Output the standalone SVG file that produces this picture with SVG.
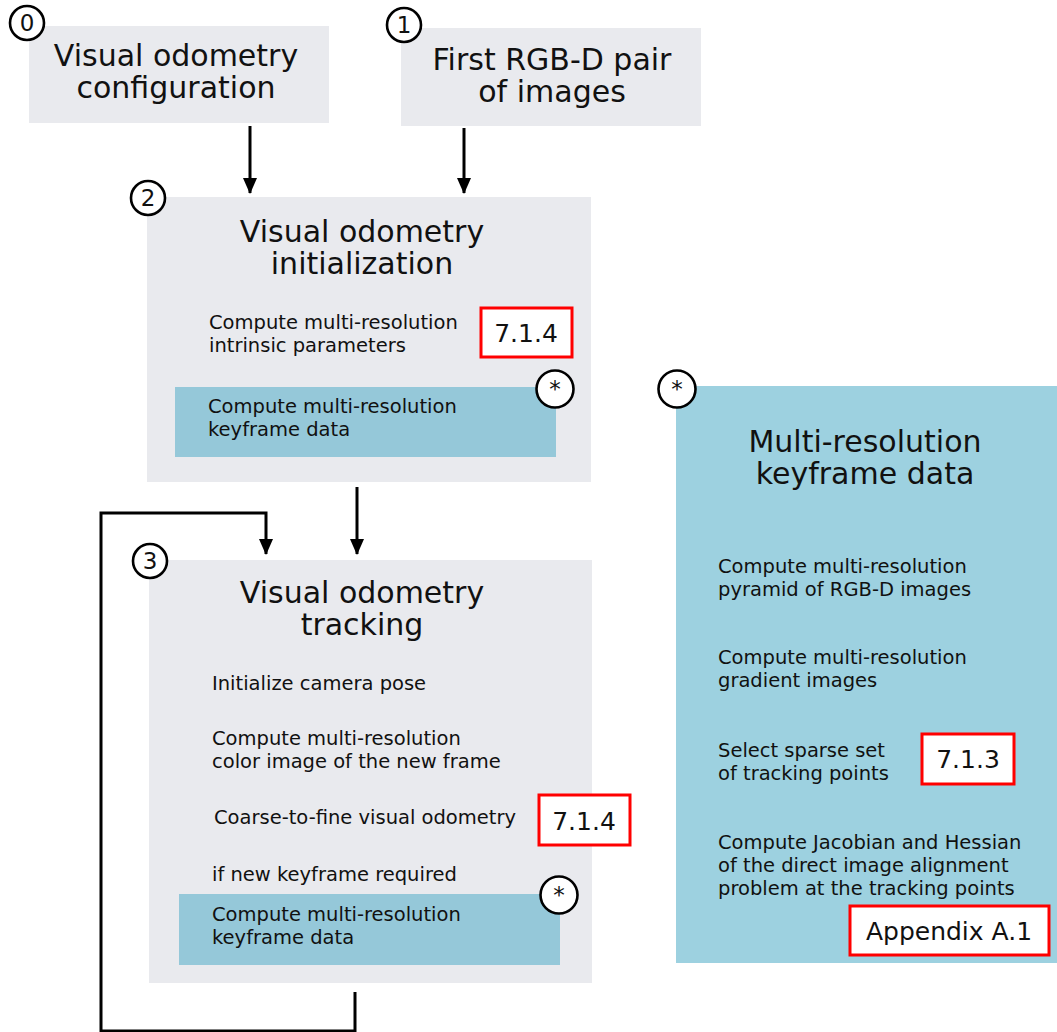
<svg xmlns="http://www.w3.org/2000/svg" width="1057" height="1032" viewBox="0 0 1057 1032">
<defs>
<marker id="ah" markerUnits="userSpaceOnUse" markerWidth="16" markerHeight="22" refX="15" refY="7" orient="auto" viewBox="0 0 16 14">
<path d="M0,0 L16,7 L0,14 Z" fill="#000"/>
</marker>
</defs>
<style>
.gray{fill:#e9eaee}
.bar{fill:#95c8d9}
.kbox{fill:#9dd1e0}
.ref{fill:#fff;stroke:#f00;stroke-width:3}
.circ{fill:#fff;stroke:#000;stroke-width:2.6}
text{font-family:"DejaVu Sans","Liberation Sans",sans-serif;fill:#111}
.t{font-size:30px;text-anchor:middle}
.s{font-size:19.5px}
.r{font-size:25px;text-anchor:middle}
.n{font-size:23px;text-anchor:middle}
.con{fill:none;stroke:#000;stroke-width:3}
</style>
<g id="connectors">
<line class="con" x1="250" y1="126" x2="250" y2="193" marker-end="url(#ah)"/>
<line class="con" x1="464" y1="128" x2="464" y2="193" marker-end="url(#ah)"/>
<line class="con" x1="357" y1="487" x2="357" y2="554" marker-end="url(#ah)"/>
<polyline class="con" points="355,992 355,1031 101,1031 101,513 266,513 266,554" marker-end="url(#ah)"/>
</g>
<g id="node0">
<rect class="gray" x="29" y="26" width="300" height="97"/>
<text class="t" x="176" y="66">Visual odometry</text>
<text class="t" x="176" y="98">configuration</text>
<circle class="circ" cx="27" cy="23" r="17"/>
<text class="n" x="27" y="31">0</text>
</g>
<g id="node1">
<rect class="gray" x="401" y="28" width="300" height="98"/>
<text class="t" x="552" y="70">First RGB-D pair</text>
<text class="t" x="552" y="102">of images</text>
<circle class="circ" cx="404" cy="25" r="17"/>
<text class="n" x="404" y="33">1</text>
</g>
<g id="node2">
<rect class="gray" x="147" y="197" width="444" height="285"/>
<text class="t" x="362" y="242">Visual odometry</text>
<text class="t" x="362" y="274">initialization</text>
<text class="s" x="209" y="329">Compute multi-resolution</text>
<text class="s" x="209" y="352">intrinsic parameters</text>
<rect class="ref" x="481" y="308" width="91" height="49"/>
<text class="r" x="526" y="342">7.1.4</text>
<rect class="bar" x="175" y="387" width="381" height="70"/>
<text class="s" x="208" y="413">Compute multi-resolution</text>
<text class="s" x="208" y="436">keyframe data</text>
<circle class="circ" cx="148" cy="198" r="17"/>
<text class="n" x="148" y="206">2</text>
<circle class="circ" cx="555" cy="389" r="18.5"/>
<text class="n" x="555" y="397">*</text>
</g>
<g id="node3">
<rect class="gray" x="149" y="560" width="443" height="423"/>
<text class="t" x="362" y="603">Visual odometry</text>
<text class="t" x="362" y="635">tracking</text>
<text class="s" x="212" y="690">Initialize camera pose</text>
<text class="s" x="212" y="745">Compute multi-resolution</text>
<text class="s" x="212" y="768">color image of the new frame</text>
<text class="s" x="214" y="824">Coarse-to-fine visual odometry</text>
<rect class="ref" x="539" y="795" width="91" height="50"/>
<text class="r" x="584" y="830">7.1.4</text>
<text class="s" x="212" y="881">if new keyframe required</text>
<rect class="bar" x="179" y="894" width="381" height="71"/>
<text class="s" x="212" y="921">Compute multi-resolution</text>
<text class="s" x="212" y="944">keyframe data</text>
<circle class="circ" cx="150" cy="561" r="17"/>
<text class="n" x="150" y="569">3</text>
<circle class="circ" cx="559" cy="895" r="18.5"/>
<text class="n" x="559" y="903">*</text>
</g>
<g id="node4">
<rect class="kbox" x="676" y="386" width="381" height="577"/>
<text class="t" x="865" y="452">Multi-resolution</text>
<text class="t" x="865" y="484">keyframe data</text>
<text class="s" x="718" y="573">Compute multi-resolution</text>
<text class="s" x="718" y="596">pyramid of RGB-D images</text>
<text class="s" x="718" y="664">Compute multi-resolution</text>
<text class="s" x="718" y="687">gradient images</text>
<text class="s" x="718" y="757">Select sparse set</text>
<text class="s" x="718" y="780">of tracking points</text>
<rect class="ref" x="922" y="734" width="92" height="50"/>
<text class="r" x="968" y="768">7.1.3</text>
<text class="s" x="718" y="849">Compute Jacobian and Hessian</text>
<text class="s" x="718" y="872">of the direct image alignment</text>
<text class="s" x="718" y="895">problem at the tracking points</text>
<rect class="ref" x="850" y="906" width="199" height="49"/>
<text class="r" x="949" y="940">Appendix A.1</text>
<circle class="circ" cx="677" cy="389" r="18.5"/>
<text class="n" x="677" y="397">*</text>
</g>
</svg>
